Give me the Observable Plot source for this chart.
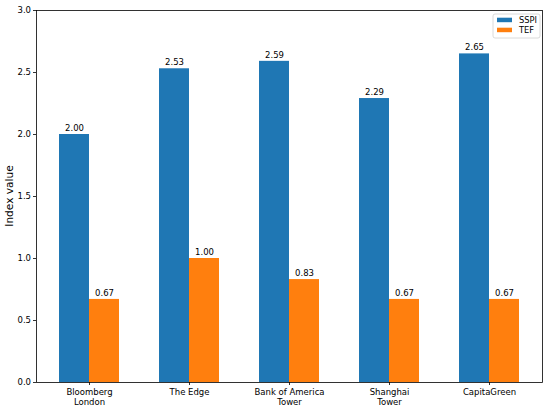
<!DOCTYPE html>
<html><head>
<meta charset="utf-8">
<script src="https://cdn.jsdelivr.net/npm/d3@7"></script>
<script src="https://cdn.jsdelivr.net/npm/@observablehq/plot@0.6"></script>
<style>body{margin:0;background:#fff}</style>
</head><body><div id="chart"></div>
<script>
const categories = ["Bloomberg\nLondon", "The Edge", "Bank of America\nTower", "Shanghai\nTower", "CapitaGreen"];
const sspi = [2.00, 2.53, 2.59, 2.29, 2.65];
const tef = [0.67, 1.00, 0.83, 0.67, 0.67];
const series = ["SSPI", "TEF"];
const colors = ["#1f77b4", "#ff7f0e"];
const yTicks = [0, 0.5, 1.0, 1.5, 2.0, 2.5, 3.0];
const yLabel = "Index value";

const BW = 0.3;
const rows = [];
categories.forEach((c, i) => {
  rows.push({i, series: "SSPI", value: sspi[i], x1: i - BW, x2: i});
  rows.push({i, series: "TEF", value: tef[i], x1: i, x2: i + BW});
});

const FS = "8.5px";
const chart = Plot.plot({
  width: 550, height: 411,
  marginLeft: 36, marginRight: 8, marginTop: 10, marginBottom: 29,
  style: {fontFamily: "DejaVu Sans", fontSize: FS, color: "#000", background: "#fff"},
  x: {domain: [-0.53, 4.53], label: null},
  y: {domain: [0, 3], label: null},
  color: {domain: series, range: colors},
  marks: [
    Plot.rectY(rows, {x1: "x1", x2: "x2", y1: 0, y2: "value", fill: "series"}),
    Plot.text(rows, {x: d => (d.x1 + d.x2) / 2, y: "value", text: d => d.value.toFixed(2),
      dy: -3.5, lineAnchor: "bottom", fill: "#000", fontSize: 8.5}),
    Plot.axisX({ticks: categories.map((c, i) => i), tickFormat: i => categories[i],
      tickSize: 3, tickPadding: 2.5, strokeWidth: 0.8, label: null, lineHeight: 1.2}),
    Plot.axisY({ticks: yTicks, tickFormat: d3.format(".1f"), tickSize: 3, tickPadding: 2.5,
      strokeWidth: 0.8, label: null}),
    Plot.frame({stroke: "#000", strokeWidth: 0.8})
  ]
});
document.getElementById("chart").appendChild(chart);

const svg = d3.select(chart);
svg.append("text")
  .attr("transform", "translate(10,196) rotate(-90)")
  .attr("text-anchor", "middle").attr("dominant-baseline", "middle")
  .attr("font-family", "DejaVu Sans").attr("font-size", "10.6px").attr("fill", "#000")
  .text(yLabel);

const lg = svg.append("g");
lg.append("rect").attr("x", 493).attr("y", 14).attr("width", 47).attr("height", 24)
  .attr("rx", 2).attr("fill", "#fff").attr("fill-opacity", 0.8)
  .attr("stroke", "#d0d0d0").attr("stroke-width", 0.8);
series.forEach((s, k) => {
  lg.append("rect").attr("x", 497).attr("y", 17.7 + k * 10).attr("width", 15).attr("height", 4.5)
    .attr("fill", colors[k]);
  lg.append("text").attr("x", 519).attr("y", 20 + k * 10)
    .attr("text-anchor", "start")
    .attr("dominant-baseline", "middle").attr("font-family", "DejaVu Sans")
    .attr("font-size", "8.3px").attr("fill", "#000").text(s);
});
</script>
</body></html>
